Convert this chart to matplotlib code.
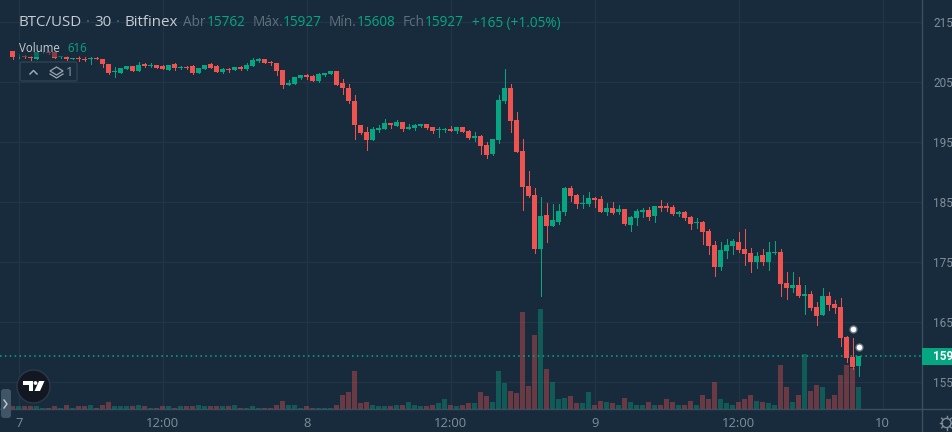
import numpy as np
import matplotlib
matplotlib.use("Agg")
import matplotlib.pyplot as plt
from matplotlib.patches import Circle, FancyBboxPatch, Polygon, Rectangle

opens = [21017,20928,20933,20917,20889,20995,21000,20995,20917,20917,
 20878,20905,20889,20878,20905,20883,20805,20667,20655,20722,
 20772,20683,20795,20772,20789,20761,20705,20795,20739,20750,
 20767,20655,20717,20795,20772,20667,20711,20705,20750,20717,
 20772,20850,20883,20833,20817,20700,20450,20467,20567,20617,
 20600,20517,20617,20633,20683,20483,20400,20183,19783,19667,
 19533,19700,19717,19817,19767,19833,19717,19733,19767,19800,
 19750,19705,19700,19717,19683,19750,19683,19567,19600,19450,
 19300,19533,20183,20400,19867,19350,18767,18617,17717,18283,
 18100,18167,18333,18733,18617,18467,18467,18567,18550,18333,
 18400,18333,18383,18117,18233,18333,18367,18267,18433,18433,
 18417,18300,18333,18250,18150,18167,18017,17783,17417,17683,
 17767,17833,17717,17650,17500,17617,17500,17650,17667,17150,
 17067,17117,16933,16967,16750,16617,16933,16800,16750,16250,
 15917,15762]
highs = [21017,20972,20950,20933,20995,21017,21017,20995,20939,20933,
 20895,20928,20911,20922,20922,20883,20805,20745,20728,20772,
 20772,20833,20822,20811,20789,20783,20783,20822,20767,20761,
 20783,20733,20783,20822,20783,20739,20728,20750,20761,20811,
 20900,20905,20883,20850,20817,20700,20533,20583,20617,20633,
 20617,20650,20650,20683,20683,20550,20467,20283,19783,19750,
 19750,19783,19883,19817,19867,19833,19800,19800,19800,19800,
 19750,19750,19733,19767,19750,19750,19700,19667,19617,19500,
 19550,20283,20717,20467,20000,19550,19017,18733,18583,18483,
 18467,18467,18750,18767,18633,18617,18667,18583,18600,18483,
 18500,18450,18383,18267,18383,18400,18417,18433,18533,18483,
 18450,18350,18350,18267,18233,18183,18050,17850,17833,17883,
 17883,18000,18050,17733,17667,17717,17833,17850,17717,17333,
 17333,17250,17117,17017,16833,17067,17000,16867,16900,16267,
 16233,15927]
lows = [20889,20895,20900,20861,20889,20983,20967,20895,20900,20861,
 20878,20855,20850,20795,20878,20755,20633,20589,20655,20722,
 20683,20683,20745,20750,20733,20717,20705,20705,20717,20722,
 20639,20655,20717,20728,20667,20650,20667,20705,20705,20705,
 20772,20839,20811,20789,20617,20400,20450,20467,20550,20550,
 20517,20500,20600,20633,20450,20300,20150,19550,19633,19367,
 19533,19667,19717,19733,19767,19683,19717,19700,19750,19717,
 19650,19583,19667,19683,19650,19667,19550,19517,19300,19233,
 19283,19483,20150,19667,19333,18367,18583,17650,16933,17833,
 18100,18133,18283,18517,18400,18400,18433,18417,18333,18283,
 18300,18300,18117,18017,18117,18250,18200,18167,18350,18350,
 18283,18267,18200,18050,18067,17800,17633,17267,17367,17567,
 17633,17667,17450,17333,17400,17450,17367,17633,16933,16883,
 17000,16917,16633,16700,16450,16617,16700,16650,16100,15833,
 15717,15608]
closes = [20922,20939,20917,20895,20995,21005,20983,20895,20922,20878,
 20895,20878,20872,20895,20883,20805,20645,20678,20728,20772,
 20683,20783,20772,20789,20733,20717,20783,20728,20755,20733,
 20650,20733,20783,20739,20667,20717,20700,20750,20717,20789,
 20872,20883,20811,20811,20683,20450,20483,20583,20617,20583,
 20517,20633,20650,20683,20450,20400,20183,19783,19650,19533,
 19717,19733,19817,19783,19833,19717,19750,19783,19800,19733,
 19683,19717,19711,19683,19750,19667,19567,19600,19433,19283,
 19550,20200,20400,19850,19333,18750,18600,17717,18267,18100,
 18200,18350,18733,18600,18467,18483,18567,18533,18333,18400,
 18317,18383,18133,18250,18350,18367,18250,18433,18400,18400,
 18300,18333,18233,18133,18167,18000,17767,17417,17700,17783,
 17850,17700,17633,17500,17600,17500,17667,17667,17133,17067,
 17117,16933,16967,16733,16600,16933,16783,16733,16233,15900,
 15750,15927]
volumes = [59,59,59,59,59,29,29,59,29,88,
 29,59,59,88,29,88,205,59,59,59,
 59,88,59,29,29,59,59,29,59,59,
 59,117,59,59,59,59,59,117,29,29,
 59,29,29,29,88,234,88,117,29,59,
 29,29,29,29,88,381,498,1113,147,205,
 88,59,59,59,88,117,176,88,59,59,
 88,147,293,88,59,88,147,147,498,352,
 205,1113,733,527,440,2842,645,2168,2930,1143,
 791,264,322,352,147,147,469,117,234,176,
 147,88,322,205,88,88,176,117,88,264,
 205,88,88,234,117,381,264,791,293,147,
 117,176,293,410,234,205,147,117,1289,616,
 205,381,1611,527,674,616,264,410,996,1289,
 1201,616]
alert_pos = [140, 141]
alert_price = [16375, 16083]
last_price = 15927
price_ticks = [21500,20500,19500,18500,17500,16500,15500]
price_labels = ["21500","20500","19500","18500","17500","16500","15500"]
time_pos = [1,25,49,73,97,121,145]
time_labels = ["7","12:00","8","12:00","9","12:00","10"]

BG="#182b3d"; GRID="#223546"; AXL="#3b4e5e"; UP="#05a782"; DN="#ef5350"; TXT="#7f8d99"
FONT="Open Sans"
plt.rcParams['font.family']=FONT
W,H=952,432
fig=plt.figure(figsize=(W/100,H/100),dpi=100,facecolor=BG)
rect=[0,(H-408.5)/H,922/W,408.5/H]
PX0=12.7; PPC=6.0
xlim=(-PX0/PPC,(922-PX0)/PPC)
ylim=(21500-(408.5-22)*1000/60, 21500+22*1000/60)
vlim=(0,408.5*29.3)

axb=fig.add_axes(rect,facecolor=BG)
axb.set_xlim(*xlim); axb.set_ylim(*ylim)
axb.yaxis.tick_right()
axb.set_yticks(price_ticks,price_labels,family='Roboto')
axb.set_xticks(time_pos,time_labels)
axb.grid(True,color=GRID,lw=1.0)
axb.set_axisbelow(True)
axb.tick_params(axis='y',length=0,pad=8,labelcolor=TXT,labelsize=8.5)
axb.tick_params(axis='x',length=0,pad=6,labelcolor=TXT,labelsize=9.4)
for s in ['top','left']: axb.spines[s].set_visible(False)
for s in ['right','bottom']:
    axb.spines[s].set_color(AXL); axb.spines[s].set_linewidth(1.0)

n=np.arange(len(closes))
o=np.array(opens,float);h=np.array(highs,float);l=np.array(lows,float);c=np.array(closes,float);v=np.array(volumes,float)
colors=[UP if ci>=oi else DN for oi,ci in zip(o,c)]

axv=fig.add_axes(rect); axv.patch.set_visible(False); axv.axis('off')
axv.set_xlim(*xlim); axv.set_ylim(*vlim)
axv.bar(n,v,width=5/6,color=colors,alpha=0.38,linewidth=0)

ax=fig.add_axes(rect); ax.patch.set_visible(False); ax.axis('off')
ax.set_xlim(*xlim); ax.set_ylim(*ylim)
ax.axhline(last_price,color="#08a88a",lw=1.1,ls=(0,(1,2.2)),zorder=1)
ax.vlines(n,l,h,colors=colors,lw=0.72,zorder=2,antialiaseds=False)
ax.bar(n,np.maximum(np.abs(c-o),12),bottom=np.minimum(o,c),width=5/6,color=colors,linewidth=0,zorder=3)
ax.plot(alert_pos,alert_price,ls='',marker='o',ms=4.4,mfc='white',mec='white',alpha=0.35,mew=1.6,zorder=4)
ax.plot(alert_pos,alert_price,ls='',marker='o',ms=3.8,mfc='white',mec='white',mew=0,zorder=5)

# overlay in pixel units for chart furniture
ov=fig.add_axes([0,0,1,1]); ov.patch.set_visible(False); ov.axis('off')
ov.set_xlim(0,W); ov.set_ylim(H,0)
ov.plot([922,922],[408,432],color=AXL,lw=1)
ov.plot([922,952],[408.5,408.5],color=AXL,lw=1)
ov.add_patch(Rectangle((18,41),70,16,fc=BG,ec='none',alpha=0.5))
def T(x,s,col,y=23,size=10.6,**k):
    ov.text(x,y,s,color=col,fontsize=size,va='center',ha='left',**k)
HD="#c6ccd2"; GRY="#5f6f7d"
T(19,"BTC/USD",HD,size=10.9); T(94,"30",HD,size=10.9); T(124,"Bitfinex",HD,size=10.9)
T(86,"·",GRY,size=10.9); T(116,"·",GRY,size=10.9)
HS=9.8
T(183,"Abr",GRY,size=HS); T(207,"15762",UP,size=HS)
T(253,"Máx.",GRY,size=HS); T(283,"15927",UP,size=HS)
T(329,"Mín.",GRY,size=HS); T(357,"15608",UP,size=HS)
T(403,"Fch",GRY,size=HS); T(425,"15927",UP,size=HS)
T(472,"+165 (+1.05%)",UP,size=HS)
T(19,"Volume",HD,y=48,size=8.3); T(67,"616",UP,y=48,size=8.3)
# legend toggle
ov.add_patch(FancyBboxPatch((20,62),57,19,boxstyle="round,pad=0,rounding_size=2",fc='none',ec="#2f4252",lw=1))
ov.plot([30,33.5,37],[74,70.5,74],color="#9aa6b0",lw=1.1)
ov.add_patch(Polygon([[50,71],[56.5,67],[63,71],[56.5,75]],fc='none',ec="#9aa6b0",lw=0.9))
ov.plot([50,56.5,63],[74,78,74],color="#9aa6b0",lw=0.9)
T(66,"1","#8a97a2",y=72,size=9.4)
# last price tag
ov.add_patch(Rectangle((922,348),30,17,fc=UP,ec='none',zorder=5))
ov.text(933,356.5,str(last_price),color='white',fontsize=8.5,fontweight='bold',family='Roboto',va='center',ha='left',zorder=6)
# logo
ov.add_patch(Circle((33.5,386.5),16.5,fc="#131722",ec="#2a3a48",lw=1,zorder=6))
ov.add_patch(Polygon([[23,381],[33,381],[33,391],[29,391],[29,385],[23,385]],fc='white',ec='none',zorder=7))
ov.add_patch(Circle((35.5,383),1.9,fc='white',ec='none',zorder=7))
ov.add_patch(Polygon([[39,381],[44.5,381],[40,391],[34.5,391]],fc='white',ec='none',zorder=7))
# side tab
ov.add_patch(FancyBboxPatch((1,389),10,29,boxstyle="round,pad=0,rounding_size=3",fc="#405667",ec='none',zorder=6))
ov.plot([4,7,4],[400,404,408],color="#c6ccd2",lw=1,zorder=7)
# gear
GX,GY=946.5,423
ov.add_patch(Circle((GX,GY),4.6,fc='none',ec="#7f8d99",lw=1))
for a in np.arange(0,360,45):
    ca,sa=np.cos(np.radians(a)),np.sin(np.radians(a))
    ov.plot([GX+4.6*ca,GX+6.8*ca],[GY+4.6*sa,GY+6.8*sa],color="#7f8d99",lw=1)
fig.savefig("out.png",dpi=100,facecolor=BG)
